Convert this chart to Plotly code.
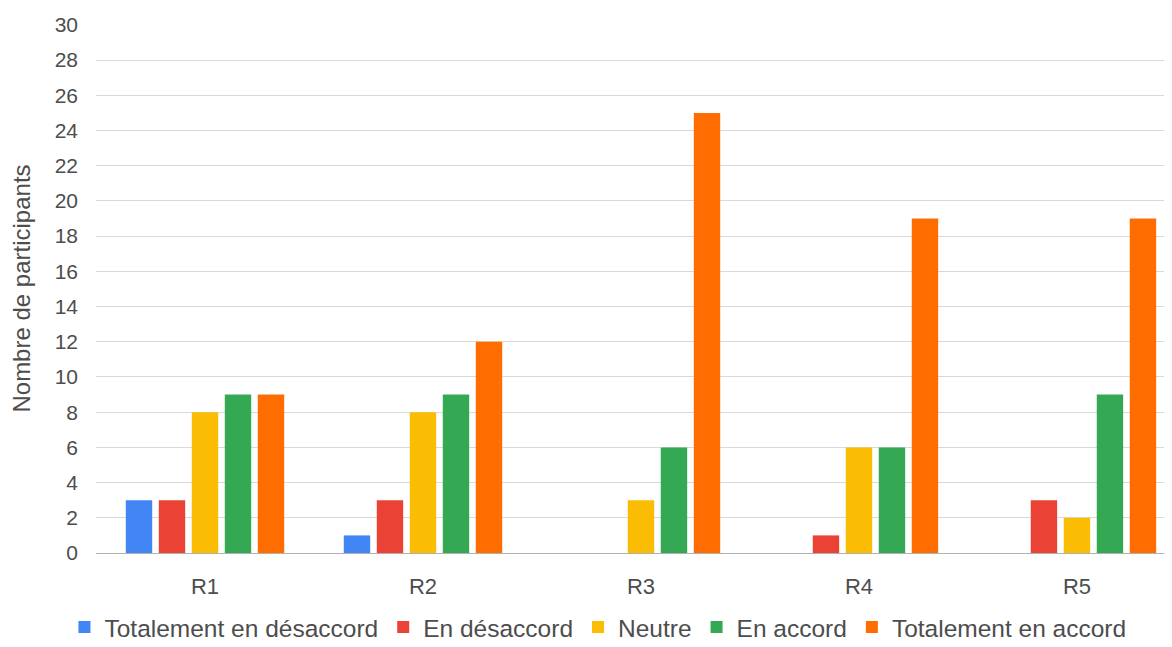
import plotly.graph_objects as go

categories = ["R1", "R2", "R3", "R4", "R5"]
series_names = ["Totalement en désaccord", "En désaccord", "Neutre", "En accord", "Totalement en accord"]
tot_desaccord = [3, 1, 0, 0, 0]
desaccord = [3, 3, 0, 1, 3]
neutre = [8, 8, 3, 6, 2]
accord = [9, 9, 6, 6, 9]
tot_accord = [9, 12, 25, 19, 19]
y_ticks = list(range(0, 31, 2))

colors = ["#4285F4", "#EA4335", "#FBBC04", "#34A853", "#FF6D01"]
values = [tot_desaccord, desaccord, neutre, accord, tot_accord]

fig = go.Figure()
for name, vals, c in zip(series_names, values, colors):
    fig.add_trace(go.Bar(x=categories, y=vals, name=name, marker_color=c,
                         marker_line_width=0))

font_family = "Liberation Sans, Arial, sans-serif"
txt = "#4d4d4d"
fig.update_layout(
    width=1164, height=639,
    margin=dict(l=88, r=0, t=16, b=94, autoexpand=False),
    paper_bgcolor="white", plot_bgcolor="white",
    barmode="group", bargap=0.243, bargroupgap=0.2,
    font=dict(family=font_family, size=21, color=txt),
    showlegend=True,
    legend=dict(orientation="h", x=0.4665, xanchor="center", y=-0.14, yanchor="middle",
                font=dict(size=24.5, color=txt), itemwidth=30,
                traceorder="normal", bgcolor="rgba(0,0,0,0)"),
    xaxis=dict(showgrid=False, tickfont=dict(size=22, color=txt), automargin=False,
               showline=False, ticks="", ticklabelstandoff=18,
               range=[-0.5, 4.436]),
    yaxis=dict(range=[0, 30.05], tickvals=y_ticks, showgrid=True, gridcolor="#d9d9d9",
               gridwidth=1, zeroline=True, zerolinecolor="#b0b0b0", zerolinewidth=1,
               automargin=False,
               tickfont=dict(size=21, color=txt), ticks="", ticklabelstandoff=17,
               title=dict(text="Nombre de participants", font=dict(size=24, color=txt),
                          standoff=17)),
)
fig.write_html("out.html")
